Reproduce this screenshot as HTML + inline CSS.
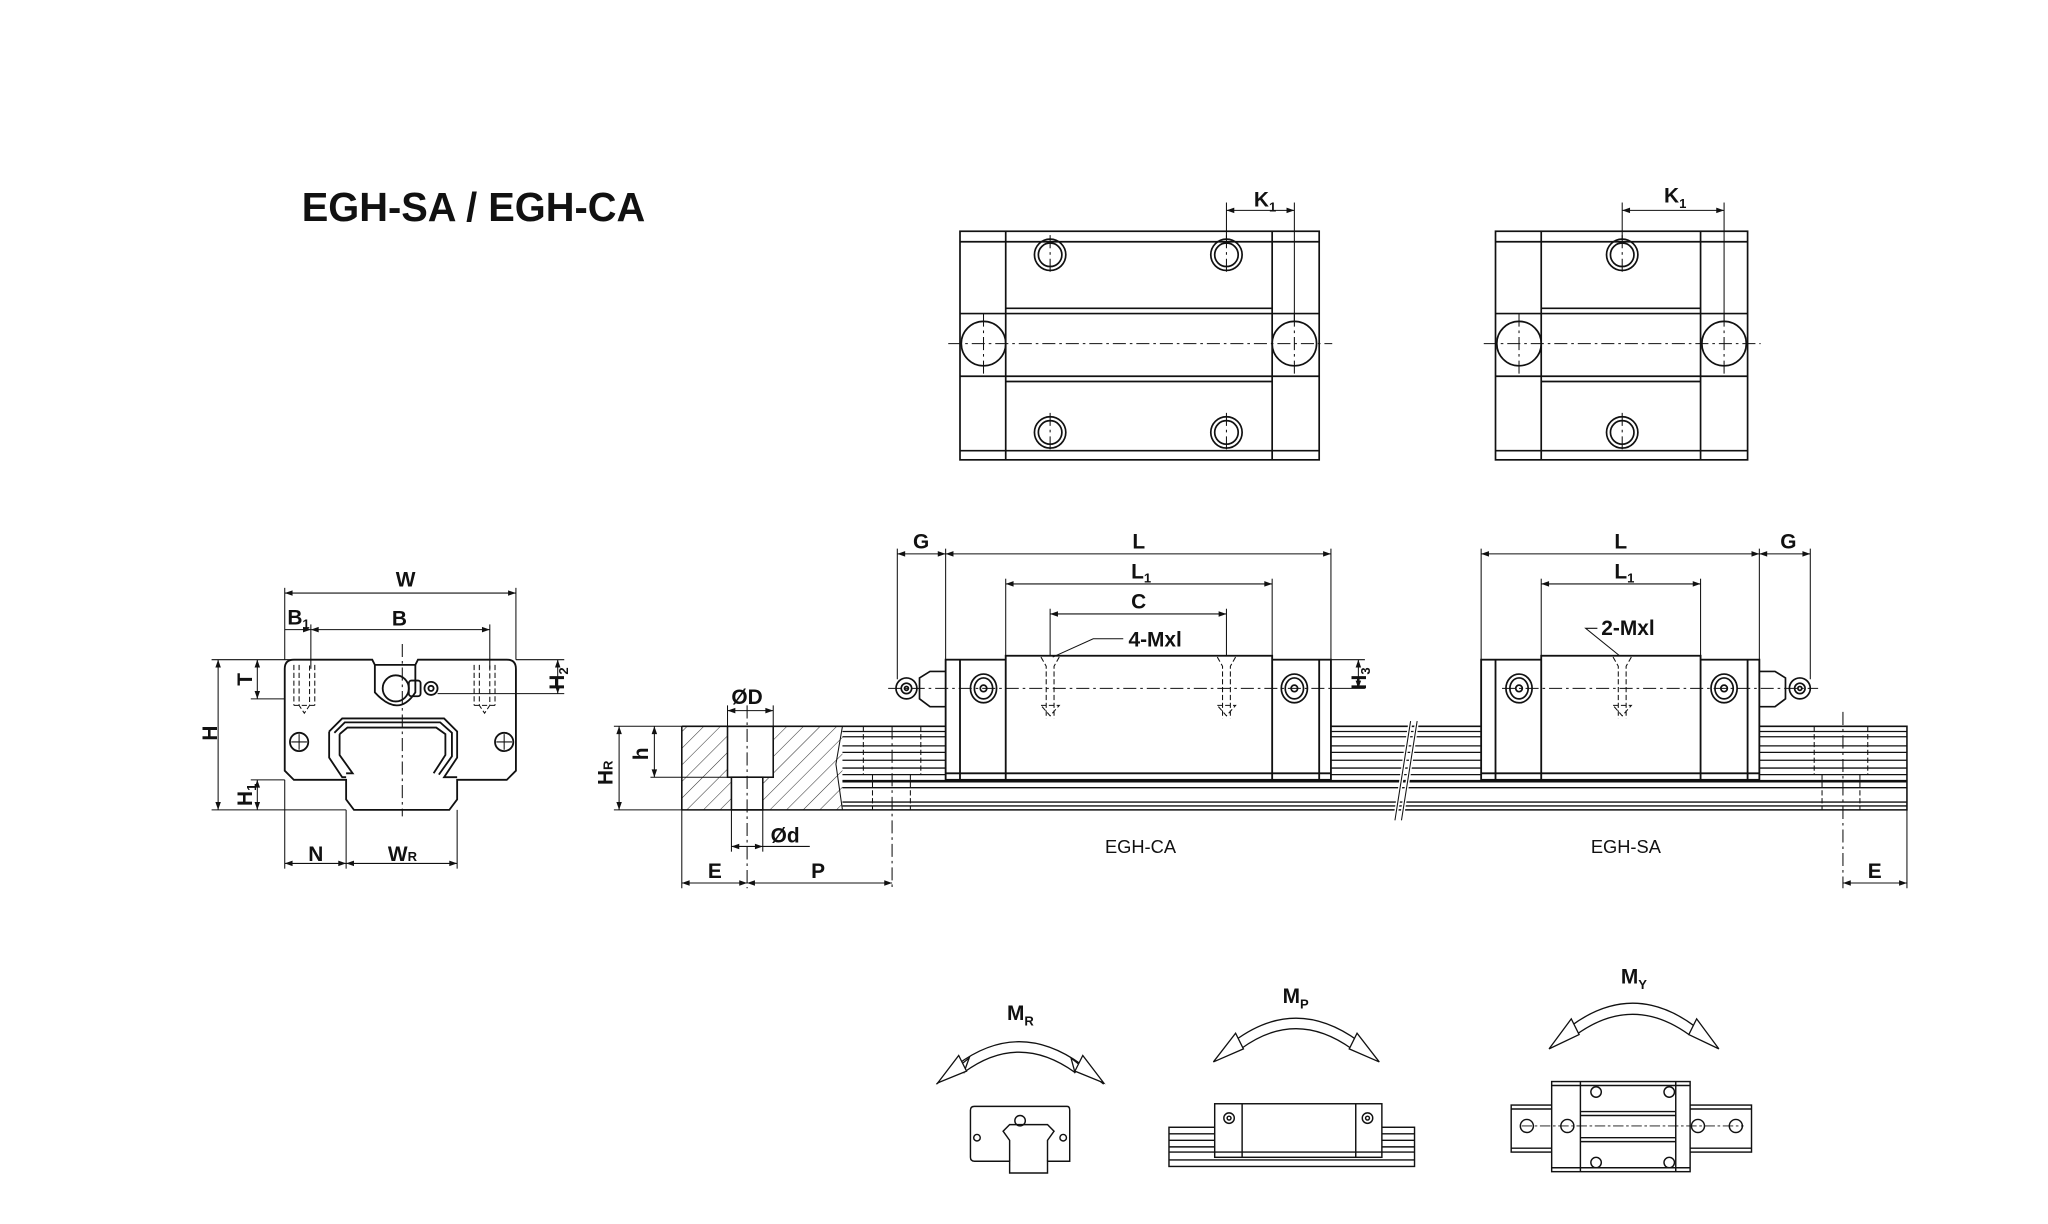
<!DOCTYPE html>
<html><head><meta charset="utf-8"><style>
html,body{margin:0;padding:0;background:#fff;}
svg{display:block}
text{font-family:"Liberation Sans",sans-serif;fill:#111;}
</style></head><body>
<svg width="2048" height="1224" viewBox="0 0 1568 937" xmlns="http://www.w3.org/2000/svg">
<defs>
<marker id="a" viewBox="0 0 10 10" refX="10" refY="5" markerWidth="8" markerHeight="6" orient="auto-start-reverse" markerUnits="userSpaceOnUse"><path d="M0,1.5 L10,5 L0,8.5 z" fill="#111"/></marker>
<pattern id="h" width="9" height="9" patternUnits="userSpaceOnUse" patternTransform="rotate(45)"><line x1="0" y1="0" x2="0" y2="9" stroke="#333" stroke-width="0.8"/></pattern>
</defs>
<g fill="none" stroke="#111" stroke-width="1.3">

<!-- Title -->
</g>
<text x="231" y="169" font-size="31" font-weight="bold" textLength="263" lengthAdjust="spacingAndGlyphs">EGH-SA / EGH-CA</text>

<g fill="none" stroke="#111" stroke-width="1.3">
<!-- Top view 1 -->
<rect x="735" y="177" width="275" height="175"/>
<line x1="770" y1="177" x2="770" y2="352"/><line x1="974" y1="177" x2="974" y2="352"/>
<line x1="735" y1="185" x2="1010" y2="185"/><line x1="735" y1="345" x2="1010" y2="345"/>
<line x1="735" y1="240" x2="1010" y2="240"/><line x1="735" y1="288" x2="1010" y2="288"/>
<line x1="770" y1="236" x2="974" y2="236"/><line x1="770" y1="292" x2="974" y2="292"/>
<circle cx="804" cy="195" r="12"/><circle cx="804" cy="195" r="9"/>
<circle cx="939" cy="195" r="12"/><circle cx="939" cy="195" r="9"/>
<circle cx="804" cy="331" r="12"/><circle cx="804" cy="331" r="9"/>
<circle cx="939" cy="331" r="12"/><circle cx="939" cy="331" r="9"/>
<circle cx="753" cy="263" r="17"/><circle cx="991" cy="263" r="17"/>
<!-- Top view 2 -->
<rect x="1145" y="177" width="193" height="175"/>
<line x1="1180" y1="177" x2="1180" y2="352"/><line x1="1302" y1="177" x2="1302" y2="352"/>
<line x1="1145" y1="185" x2="1338" y2="185"/><line x1="1145" y1="345" x2="1338" y2="345"/>
<line x1="1145" y1="240" x2="1338" y2="240"/><line x1="1145" y1="288" x2="1338" y2="288"/>
<line x1="1180" y1="236" x2="1302" y2="236"/><line x1="1180" y1="292" x2="1302" y2="292"/>
<circle cx="1242" cy="195" r="12"/><circle cx="1242" cy="195" r="9"/>
<circle cx="1242" cy="331" r="12"/><circle cx="1242" cy="331" r="9"/>
<circle cx="1163" cy="263" r="17"/><circle cx="1320" cy="263" r="17"/>
</g>
<g fill="none" stroke="#111" stroke-width="0.8" stroke-dasharray="10,3,2,3">
<line x1="726" y1="263" x2="1020" y2="263"/><line x1="753" y1="240" x2="753" y2="288"/><line x1="991" y1="240" x2="991" y2="288"/>
<line x1="804" y1="180" x2="804" y2="210"/><line x1="939" y1="180" x2="939" y2="210"/><line x1="804" y1="316" x2="804" y2="346"/><line x1="939" y1="316" x2="939" y2="346"/>
<line x1="1136" y1="263" x2="1348" y2="263"/><line x1="1163" y1="240" x2="1163" y2="288"/><line x1="1320" y1="240" x2="1320" y2="288"/>
<line x1="1242" y1="180" x2="1242" y2="210"/><line x1="1242" y1="316" x2="1242" y2="346"/>
</g>
<g fill="none" stroke="#111" stroke-width="0.8">
<line x1="939" y1="155" x2="939" y2="183"/><line x1="991" y1="155" x2="991" y2="246"/>
<line x1="939" y1="161" x2="991" y2="161" marker-start="url(#a)" marker-end="url(#a)"/>
<line x1="1242" y1="155" x2="1242" y2="183"/><line x1="1320" y1="155" x2="1320" y2="246"/>
<line x1="1242" y1="161" x2="1320" y2="161" marker-start="url(#a)" marker-end="url(#a)"/>
</g>
<text x="960" y="158" font-size="16" font-weight="bold">K<tspan font-size="10" dy="4">1</tspan></text>
<text x="1274" y="155" font-size="16" font-weight="bold">K<tspan font-size="10" dy="4">1</tspan></text>

<!-- Front view -->
<g fill="none" stroke="#111" stroke-width="1.4">
<path d="M225,505 H285 L287,509 H318 L320,505 H388 Q395,505 395,512 V590 L388,597 H350 V612 L344,620 H271 L265,612 V597 H225 L218,590 V512 Q218,505 225,505 Z"/>
<path d="M287,509 V530 Q305,550 318,530 V509"/>
<path d="M252,560 L262,550 H340 L350,560 V580 L340,595 H350"/>
<path d="M256,561 L264,553 H337 L346,561 V579 L336,593 M264,553"/>
<path d="M260,562 L266,557 H334 L341,562 V578 L332,592"/>
<path d="M260,562 V578 L270,592 H265 M252,560 V580 L262,595 H265"/>
<circle cx="303" cy="527" r="10"/><rect x="313" y="521" width="9" height="12" rx="2"/><circle cx="330" cy="527" r="5"/><circle cx="330" cy="527" r="2"/>
<circle cx="229" cy="568" r="7"/><circle cx="386" cy="568" r="7"/>
<path d="M229,562 V574 M223,568 H235 M386,562 V574 M380,568 H392" stroke-width="0.8"/>
</g>
<g fill="none" stroke="#111" stroke-width="0.8" stroke-dasharray="4,2">
<path d="M229,509 V540 L233,546 L237,540 V509 M225,509 V540 M241,509 V540 M225,540 H241"/>
<path d="M367,509 V540 L371,546 L375,540 V509 M363,509 V540 M379,509 V540 M363,540 H379"/>
</g>
<g fill="none" stroke="#111" stroke-width="0.8">
<line x1="308" y1="493" x2="308" y2="625" stroke-dasharray="10,3,2,3"/>
<line x1="218" y1="450" x2="218" y2="505"/><line x1="395" y1="450" x2="395" y2="505"/>
<line x1="218" y1="454" x2="395" y2="454" marker-start="url(#a)" marker-end="url(#a)"/>
<line x1="238" y1="478" x2="238" y2="512"/><line x1="375" y1="478" x2="375" y2="512"/>
<line x1="238" y1="482" x2="375" y2="482" marker-start="url(#a)" marker-end="url(#a)"/>
<line x1="218" y1="482" x2="238" y2="482" marker-end="url(#a)"/>
<line x1="162" y1="505" x2="225" y2="505"/><line x1="162" y1="620" x2="265" y2="620"/>
<line x1="167" y1="505" x2="167" y2="620" marker-start="url(#a)" marker-end="url(#a)"/>
<line x1="192" y1="535" x2="218" y2="535"/><line x1="197" y1="505" x2="197" y2="535" marker-start="url(#a)" marker-end="url(#a)"/>
<line x1="192" y1="597" x2="218" y2="597"/><line x1="197" y1="597" x2="197" y2="620" marker-start="url(#a)" marker-end="url(#a)"/>
<line x1="395" y1="505" x2="432" y2="505"/><line x1="335" y1="531" x2="432" y2="531"/>
<line x1="427" y1="505" x2="427" y2="531" marker-start="url(#a)" marker-end="url(#a)"/>
<line x1="218" y1="597" x2="218" y2="665"/><line x1="265" y1="620" x2="265" y2="665"/><line x1="350" y1="620" x2="350" y2="665"/>
<line x1="218" y1="661" x2="265" y2="661" marker-start="url(#a)" marker-end="url(#a)"/>
<line x1="265" y1="661" x2="350" y2="661" marker-start="url(#a)" marker-end="url(#a)"/>
</g>
<g font-size="16" font-weight="bold">
<text x="303" y="449">W</text>
<text x="220" y="478">B<tspan font-size="10" dy="3">1</tspan></text>
<text x="300" y="479">B</text>
<text x="236" y="659">N</text>
<text x="297" y="659">W<tspan font-size="10">R</tspan></text>
<text transform="translate(166,567) rotate(-90)">H</text>
<text transform="translate(193,525) rotate(-90)">T</text>
<text transform="translate(193,617) rotate(-90)">H<tspan font-size="10" dy="3">1</tspan></text>
<text transform="translate(432,528) rotate(-90)">H<tspan font-size="10" dy="3">2</tspan></text>
</g>

<!-- Side view rail -->
<rect x="522" y="556" width="123" height="64" fill="url(#h)" stroke="none"/>
<rect x="557" y="556" width="35" height="39" fill="#fff" stroke="#111" stroke-width="1.2"/>
<rect x="560" y="595" width="24" height="25" fill="#fff" stroke="#111" stroke-width="1.2"/>
<g fill="none" stroke="#111" stroke-width="1.2">
<path d="M522,556 V620 M522,556 H1460 V620 H522"/>
<path d="M645,556 L640,585 L645,620" stroke-width="0.8"/>
</g>
<g fill="none" stroke="#111" stroke-width="1">
<path d="M645,560 H1460 M645,564 H1460 M645,571 H1460 M645,576 H1460 M645,582 H1460 M645,588 H1460 M645,593 H1460"/>
<path d="M645,598 H1460" stroke-width="2"/>
<path d="M645,603 H1460 M645,614 H1460 M645,617 H1460"/>
</g>
<g fill="none" stroke="#111" stroke-width="0.8" stroke-dasharray="4,2">
<path d="M668,593 V620 M697,593 V620 M661,556 V593 M705,556 V593"/>
<path d="M1395,593 V620 M1424,593 V620 M1389,556 V593 M1430,556 V593"/>
</g>
<path d="M1080,552 L1068,628 M1085,552 L1073,628" stroke="#fff" stroke-width="3"/>
<path d="M1080,552 L1068,628 M1085,552 L1073,628" stroke="#111" stroke-width="0.8"/>

<!-- Block CA -->
<g stroke="#111" stroke-width="1.4">
<rect x="724" y="505" width="295" height="92" fill="#fff"/>
<rect x="770" y="502" width="204" height="95" fill="#fff"/>
<path d="M735,505 V597 M1010,505 V597 M770,592 H974 M724,592 H1019" fill="none"/>
<rect x="1134" y="505" width="213" height="92" fill="#fff"/>
<rect x="1180" y="502" width="122" height="95" fill="#fff"/>
<path d="M1145,505 V597 M1338,505 V597 M1180,592 H1302 M1134,592 H1347" fill="none"/>
</g>
<g fill="none" stroke="#111" stroke-width="1.3">
<ellipse cx="753" cy="527" rx="10" ry="11"/><ellipse cx="753" cy="527" rx="7" ry="8"/><circle cx="753" cy="527" r="2.5"/>
<ellipse cx="991" cy="527" rx="10" ry="11"/><ellipse cx="991" cy="527" rx="7" ry="8"/><circle cx="991" cy="527" r="2.5"/>
<ellipse cx="1163" cy="527" rx="10" ry="11"/><ellipse cx="1163" cy="527" rx="7" ry="8"/><circle cx="1163" cy="527" r="2.5"/>
<ellipse cx="1320" cy="527" rx="10" ry="11"/><ellipse cx="1320" cy="527" rx="7" ry="8"/><circle cx="1320" cy="527" r="2.5"/>
<path d="M724,514 H712 L704,519 V535 L712,541 H724"/><circle cx="694" cy="527" r="8"/><circle cx="694" cy="527" r="4"/><circle cx="694" cy="527" r="1.5"/>
<path d="M1347,514 H1359 L1367,519 V535 L1359,541 H1347"/><circle cx="1378" cy="527" r="8"/><circle cx="1378" cy="527" r="4"/><circle cx="1378" cy="527" r="1.5"/>
</g>
<g fill="none" stroke="#111" stroke-width="0.8" stroke-dasharray="4,2">
<path d="M797,503 L801,510 V550 M811,503 L807,510 V550 M797,540 H811 L804,548 Z"/>
<path d="M932,503 L936,510 V550 M946,503 L942,510 V550 M932,540 H946 L939,548 Z"/>
<path d="M1235,503 L1239,510 V550 M1249,503 L1245,510 V550 M1235,540 H1249 L1242,548 Z"/>
</g>
<g fill="none" stroke="#111" stroke-width="0.8">
<line x1="680" y1="527" x2="1020" y2="527" stroke-dasharray="10,3,2,3"/>
<line x1="1150" y1="527" x2="1392" y2="527" stroke-dasharray="10,3,2,3"/>
<line x1="687" y1="420" x2="687" y2="520"/><line x1="724" y1="420" x2="724" y2="505"/><line x1="1019" y1="420" x2="1019" y2="505"/>
<line x1="770" y1="443" x2="770" y2="502"/><line x1="974" y1="443" x2="974" y2="502"/>
<line x1="804" y1="466" x2="804" y2="502"/><line x1="939" y1="466" x2="939" y2="502"/>
<line x1="687" y1="424" x2="724" y2="424" marker-start="url(#a)" marker-end="url(#a)"/>
<line x1="724" y1="424" x2="1019" y2="424" marker-start="url(#a)" marker-end="url(#a)"/>
<line x1="770" y1="447" x2="974" y2="447" marker-start="url(#a)" marker-end="url(#a)"/>
<line x1="804" y1="470" x2="939" y2="470" marker-start="url(#a)" marker-end="url(#a)"/>
<path d="M860,489 H837 L806,503"/>
<line x1="1019" y1="505" x2="1045" y2="505"/><line x1="1019" y1="527" x2="1045" y2="527"/>
<line x1="1040" y1="505" x2="1040" y2="527" marker-start="url(#a)" marker-end="url(#a)"/>
<line x1="1134" y1="420" x2="1134" y2="505"/><line x1="1347" y1="420" x2="1347" y2="505"/><line x1="1386" y1="420" x2="1386" y2="520"/>
<line x1="1180" y1="443" x2="1180" y2="502"/><line x1="1302" y1="443" x2="1302" y2="502"/>
<line x1="1134" y1="424" x2="1347" y2="424" marker-start="url(#a)" marker-end="url(#a)"/>
<line x1="1347" y1="424" x2="1386" y2="424" marker-start="url(#a)" marker-end="url(#a)"/>
<line x1="1180" y1="447" x2="1302" y2="447" marker-start="url(#a)" marker-end="url(#a)"/>
<path d="M1223,481 H1214 L1240,502"/>
<!-- rail dims -->
<line x1="470" y1="556" x2="522" y2="556"/><line x1="470" y1="620" x2="522" y2="620"/><line x1="498" y1="595" x2="557" y2="595"/>
<line x1="474" y1="556" x2="474" y2="620" marker-start="url(#a)" marker-end="url(#a)"/>
<line x1="501" y1="556" x2="501" y2="595" marker-start="url(#a)" marker-end="url(#a)"/>
<line x1="557" y1="540" x2="557" y2="556"/><line x1="592" y1="540" x2="592" y2="556"/>
<line x1="557" y1="544" x2="592" y2="544" marker-start="url(#a)" marker-end="url(#a)"/>
<line x1="560" y1="620" x2="560" y2="652"/><line x1="584" y1="620" x2="584" y2="652"/>
<line x1="560" y1="648" x2="584" y2="648" marker-start="url(#a)" marker-end="url(#a)"/><line x1="584" y1="648" x2="620" y2="648"/>
<line x1="522" y1="620" x2="522" y2="680"/><line x1="572" y1="540" x2="572" y2="680" stroke-dasharray="10,3,2,3"/><line x1="683" y1="556" x2="683" y2="680" stroke-dasharray="10,3,2,3"/>
<line x1="522" y1="676" x2="572" y2="676" marker-start="url(#a)" marker-end="url(#a)"/>
<line x1="572" y1="676" x2="683" y2="676" marker-start="url(#a)" marker-end="url(#a)"/>
<line x1="1411" y1="545" x2="1411" y2="680" stroke-dasharray="10,3,2,3"/><line x1="1460" y1="620" x2="1460" y2="680"/>
<line x1="1411" y1="676" x2="1460" y2="676" marker-start="url(#a)" marker-end="url(#a)"/>
</g>
<g font-size="16" font-weight="bold">
<text x="699" y="420">G</text><text x="867" y="420">L</text><text x="866" y="443">L<tspan font-size="10" dy="3">1</tspan></text><text x="866" y="466">C</text>
<text x="864" y="495">4-Mxl</text>
<text transform="translate(1046,528) rotate(-90)">H<tspan font-size="10" dy="3">3</tspan></text>
<text x="1236" y="420">L</text><text x="1363" y="420">G</text><text x="1236" y="443">L<tspan font-size="10" dy="3">1</tspan></text>
<text x="1226" y="486">2-Mxl</text>
<text x="560" y="539">ØD</text><text x="590" y="645">Ød</text>
<text transform="translate(496,582) rotate(-90)">h</text>
<text transform="translate(469,601) rotate(-90)">H<tspan font-size="10">R</tspan></text>
<text x="542" y="672">E</text><text x="621" y="672">P</text><text x="1430" y="672">E</text>
</g>
<g font-size="14"><text x="846" y="653">EGH-CA</text><text x="1218" y="653">EGH-SA</text></g>

<!-- Moment icons -->
<g font-size="16" font-weight="bold">
<text x="771" y="781">M<tspan font-size="10" dy="4">R</tspan></text>
<text x="982" y="768">M<tspan font-size="10" dy="4">P</tspan></text>
<text x="1241" y="753">M<tspan font-size="10" dy="4">Y</tspan></text>
</g>
<g fill="#fff" stroke="#111" stroke-width="1">
<path d="M733,815 Q780,780 828,815 L823,821 Q780,790 738,821 Z"/>
<path d="M717,830 L742,810 L738,821 L733,815 Z"/><path d="M845,830 L820,810 L823,821 L828,815 Z"/>
<path d="M718,829 L734,808 L740,820 Z"/><path d="M845,829 L829,808 L823,820 Z"/>
<path d="M945,797 Q992,762 1040,797 L1035,803 Q992,772 950,803 Z"/>
<path d="M929,813 L946,791 L952,803 Z"/><path d="M1056,813 L1039,791 L1033,803 Z"/>
<path d="M1202,786 Q1250,750 1298,786 L1293,792 Q1250,761 1207,792 Z"/>
<path d="M1186,803 L1203,780 L1209,792 Z"/><path d="M1316,803 L1299,780 L1293,792 Z"/>
</g>
<g fill="none" stroke="#111" stroke-width="1.1">
<!-- MR -->
<path d="M746,847 H817 Q819,847 819,850 V889 H802 V898 H773 V889 H746 Q743,889 743,886 V850 Q743,847 746,847 Z"/>
<path d="M773,889 V873 L768,866 L773,861 H802 L807,866 L802,873 V889"/>
<circle cx="781" cy="858" r="4"/><circle cx="748" cy="871" r="2.5"/><circle cx="814" cy="871" r="2.5"/>
<!-- MP -->
<rect x="895" y="863" width="188" height="30"/>
<path d="M895,868 H1083 M895,873 H1083 M895,878 H1083 M895,882 H1083 M895,888 H1083"/>
<rect x="930" y="845" width="128" height="41" fill="#fff"/>
<path d="M951,845 V886 M1038,845 V886 M930,882 H1058"/>
<circle cx="941" cy="856" r="4"/><circle cx="941" cy="856" r="1.5"/><circle cx="1047" cy="856" r="4"/><circle cx="1047" cy="856" r="1.5"/>
<!-- MY -->
<rect x="1157" y="846" width="184" height="36"/>
<path d="M1157,849 H1341 M1157,879 H1341"/>
<rect x="1188" y="828" width="106" height="69" fill="#fff"/>
<path d="M1210,828 V897 M1283,828 V897 M1188,831 H1294 M1188,894 H1294 M1210,851 H1283 M1210,854 H1283 M1210,871 H1283 M1210,874 H1283"/>
<circle cx="1222" cy="836" r="4"/><circle cx="1278" cy="836" r="4"/><circle cx="1222" cy="890" r="4"/><circle cx="1278" cy="890" r="4"/>
<circle cx="1169" cy="862" r="5"/><circle cx="1329" cy="862" r="5"/><circle cx="1200" cy="862" r="5"/><circle cx="1300" cy="862" r="5"/>
<line x1="1165" y1="862" x2="1335" y2="862" stroke-dasharray="8,2,2,2" stroke-width="0.7"/>
</g>
</svg>
</body></html>
